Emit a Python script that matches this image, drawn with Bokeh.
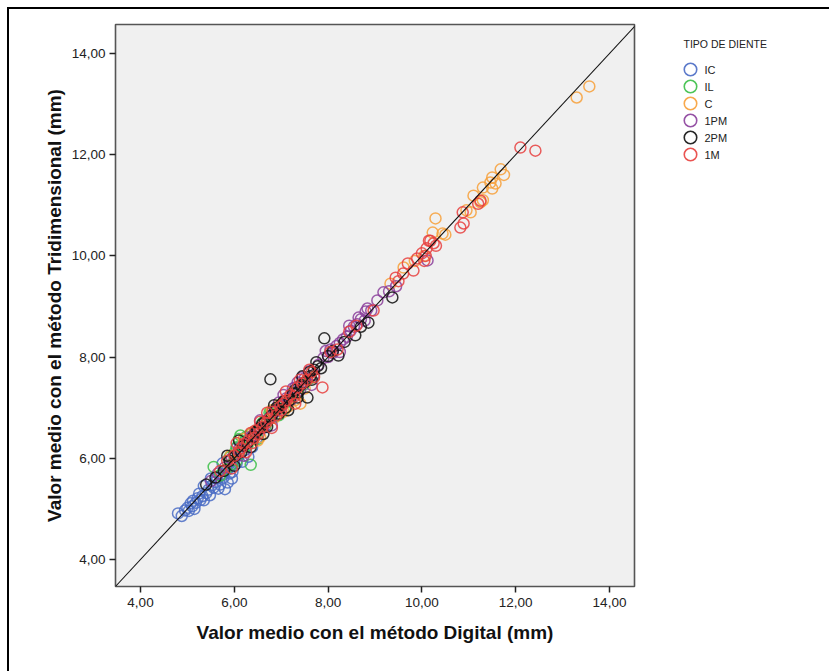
from bokeh.plotting import figure
from bokeh.models import Slope, FixedTicker, Range1d
from bokeh.layouts import row
from bokeh.core.properties import value
from bokeh.embed import file_html
from bokeh.resources import INLINE

# ---- data ----
IC_x = [4.80,4.88,4.95,5.00,5.03,5.07,5.10,5.12,5.15,5.18,5.22,5.25,5.28,5.32,5.35,5.40,5.45,5.48,5.52,5.56,
        5.60,5.63,5.66,5.70,5.74,5.77,5.80,5.84,5.86,5.90,5.93,5.96,6.00,6.05,6.10,6.17,6.22,6.30,6.38,6.48,
        5.75,5.50,5.35,5.95,6.05]
IC_y = [4.91,4.86,4.97,5.02,4.96,5.11,5.05,5.16,5.00,5.12,5.21,5.30,5.18,5.25,5.17,5.31,5.38,5.27,5.46,5.42,
        5.53,5.61,5.40,5.48,5.66,5.62,5.39,5.76,5.52,5.70,5.85,5.73,5.96,5.90,6.06,5.93,6.16,6.03,6.22,6.40,
        5.90,5.60,5.45,5.60,6.20]

IL_x = [5.56,5.70,5.82,5.90,5.95,6.00,6.05,6.10,6.13,6.18,6.22,6.28,6.35,6.35,6.42,6.48,6.55,6.60,6.66,6.72,
        6.78,6.85,6.92,7.00,7.08,7.15,7.25,7.35,7.48,7.62,
        6.05,6.25,6.50,6.75,6.95]
IL_y = [5.83,5.66,5.78,6.02,5.88,6.10,5.95,6.38,6.45,6.20,6.33,6.25,5.87,6.48,6.40,6.55,6.58,6.70,6.62,6.75,
        6.90,6.82,7.00,7.05,6.98,7.12,7.30,7.28,7.45,7.58,
        6.22,6.42,6.38,6.90,6.85]

C_x = [5.92,6.08,6.25,6.40,6.55,6.70,6.85,6.95,7.05,7.20,7.30,7.41,7.55,7.70,
       9.33,9.61,9.85,10.05,10.23,10.29,10.44,10.50,10.95,11.04,11.10,11.25,11.30,11.46,11.50,11.57,11.50,11.68,11.75,
       13.30,13.57,
       6.20,6.50,6.80,7.15,7.50,11.30]
C_y = [6.05,6.12,6.30,6.52,6.42,6.72,6.80,7.05,6.92,7.25,7.15,7.08,7.55,7.62,
       9.45,9.77,9.90,10.00,10.46,10.74,10.44,10.42,10.90,10.86,11.19,11.06,11.35,11.45,11.55,11.43,11.33,11.71,11.60,
       13.13,13.35,
       6.38,6.35,6.95,7.02,7.38,11.10]

PM1_x = [5.50,5.65,5.80,5.95,6.10,6.25,6.40,6.50,6.62,6.75,6.88,7.00,7.10,7.20,7.30,7.40,7.50,7.60,7.70,7.80,
         7.90,8.00,8.10,8.18,8.25,8.32,8.40,8.48,8.55,8.62,8.70,8.78,8.84,8.92,9.05,9.18,9.30,9.45,10.12,
         6.35,6.95,7.45,8.05,8.65,7.25,
         6.20,6.55,6.80,7.05,7.35,7.65,8.25,8.45,8.80,7.95]
PM1_y = [5.55,5.70,5.82,6.00,6.18,6.28,6.45,6.55,6.60,6.80,6.92,7.02,7.18,7.15,7.40,7.35,7.58,7.72,7.65,7.85,
         7.98,8.00,8.08,8.22,8.28,8.35,8.40,8.52,8.60,8.65,8.75,8.72,8.96,8.92,9.12,9.28,9.30,9.40,9.91,
         6.42,7.10,7.60,8.15,8.78,7.38,
         6.05,6.75,6.65,7.25,7.50,7.45,8.10,8.62,8.90,8.12]

PM2_x = [5.40,5.60,5.78,5.90,6.02,6.15,6.28,6.40,6.50,6.60,6.70,6.77,6.80,6.88,6.95,7.02,7.10,7.18,7.25,7.35,
         7.42,7.50,7.56,7.62,7.70,7.78,7.85,7.92,8.00,8.10,8.22,8.35,8.58,8.70,8.86,9.37,
         6.45,6.65,6.90,7.05,7.30,7.60,7.75,6.20,6.55,
         6.10,6.35,6.62,6.85,7.15,7.45,7.35,7.65,6.00,5.85]
PM2_y = [5.48,5.62,5.75,5.95,6.05,6.12,6.30,6.42,6.55,6.68,6.62,7.56,6.85,6.95,6.88,7.08,7.00,7.15,7.28,7.30,
         7.45,7.50,7.20,7.62,7.75,7.82,7.78,8.37,8.02,8.12,8.03,8.30,8.43,8.60,8.68,9.18,
         6.50,6.72,7.00,7.12,7.35,7.70,7.90,6.25,6.60,
         6.35,6.22,6.48,7.05,6.95,7.62,7.20,7.55,5.85,6.05]

M1_x = [5.70,5.85,6.00,6.10,6.20,6.30,6.38,6.45,6.52,6.60,6.68,6.75,6.82,6.90,6.98,7.05,7.12,7.20,7.28,7.35,
        7.45,7.55,7.65,7.88,8.05,8.20,8.45,8.60,8.97,9.44,9.50,9.60,9.82,9.90,10.00,10.08,10.18,10.25,10.10,10.05,
        10.30,10.82,10.87,10.89,11.20,11.25,12.10,12.42,
        6.15,6.42,6.70,7.00,7.40,
        6.05,6.25,6.55,6.80,7.10,7.30,7.60,6.35,5.95,7.70,9.70,10.15]
M1_y = [5.75,5.95,6.05,6.12,6.28,6.35,6.30,6.55,6.48,6.62,6.70,6.78,6.92,6.85,7.02,7.08,7.15,7.25,7.22,7.40,
        7.48,7.55,7.70,7.40,8.10,8.15,8.50,8.62,8.92,9.57,9.50,9.65,9.71,9.95,10.05,10.00,10.30,10.25,10.15,9.90,
        10.20,10.56,10.86,10.64,11.03,11.09,12.14,12.08,
        6.20,6.40,6.90,6.95,7.55,
        6.30,6.12,6.72,6.60,7.32,7.08,7.75,6.50,5.80,7.60,9.85,10.30]

groups = ["IC", "IL", "C", "1PM", "2PM", "1M"]
xs = [IC_x, IL_x, C_x, PM1_x, PM2_x, M1_x]
ys = [IC_y, IL_y, C_y, PM1_y, PM2_y, M1_y]
colors = ["#4a6cc4", "#3bbf47", "#f7a03a", "#8b3f9b", "#111111", "#e8413f"]
legend_title = "TIPO DE DIENTE"

ticks = [4, 6, 8, 10, 12, 14]
tick_labels = {4: "4,00", 6: "6,00", 8: "8,00", 10: "10,00", 12: "12,00", 14: "14,00"}

FONT = "Liberation Sans"
H = 662

# ---------------- main scatter ----------------
p = figure(frame_width=519, frame_height=562,
           x_range=Range1d(3.467, 14.533), y_range=Range1d(3.466, 14.573),
           output_backend="svg", toolbar_location=None,
           min_border_left=106, min_border_top=15, min_border_bottom=85, min_border_right=2)

p.background_fill_color = "#f0f0f0"
p.border_fill_color = "white"
p.outline_line_color = "#555555"
p.outline_line_width = 1.6
p.xgrid.visible = False
p.ygrid.visible = False

for ax in (p.xaxis[0], p.yaxis[0]):
    ax.ticker = FixedTicker(ticks=ticks)
    ax.major_label_overrides = tick_labels
    ax.axis_line_color = None
    ax.major_tick_in = 0
    ax.major_tick_out = 6
    ax.major_tick_line_color = "#222222"
    ax.major_tick_line_width = 1.5
    ax.minor_tick_line_color = None
    ax.major_label_text_font = FONT
    ax.major_label_text_font_size = "13.5px"
    ax.major_label_text_color = "#222222"
    ax.axis_label_text_font = FONT
    ax.axis_label_text_font_size = "19px"
    ax.axis_label_text_font_style = "bold"
    ax.axis_label_text_color = "#111111"

p.xaxis.axis_label = "Valor medio con el método Digital (mm)"
p.yaxis.axis_label = "Valor medio con el método Tridimensional (mm)"
p.xaxis.axis_label_standoff = 12
p.yaxis.axis_label_standoff = 4
p.xaxis.major_label_standoff = 5
p.yaxis.major_label_standoff = 4

p.add_layout(Slope(gradient=1, y_intercept=0, line_color="#111111", line_width=1.1))

for x, y, c in zip(xs, ys, colors):
    p.scatter(x, y, marker="circle", size=11, fill_color=None,
              line_color=c, line_width=1.5, line_alpha=0.85)

# ---------------- legend panel (separate small figure, pixel-like units) ----------------
LW = 193
lf = figure(frame_width=LW, frame_height=H, x_range=Range1d(0, LW), y_range=Range1d(H, 0),
            output_backend="svg", toolbar_location=None,
            x_axis_location=None, y_axis_location=None,
            min_border_left=0, min_border_right=0, min_border_top=0, min_border_bottom=0)
lf.outline_line_color = None
lf.xgrid.visible = False
lf.ygrid.visible = False
lf.background_fill_color = "white"
lf.border_fill_color = "white"

title_x, title_y = 47, 19
mark_x, label_x = 54, 68
row0, row_step = 45, 17
rows_y = [row0 + row_step * i for i in range(len(groups))]

lf.text([title_x], [title_y], text=[legend_title], text_font=value(FONT), text_font_size="10.5px",
        text_color="#222222", text_baseline="middle", text_align="left")
lf.scatter([mark_x] * len(groups), rows_y, marker="circle", size=12.5, fill_color=None,
           line_color=colors, line_width=1.6, line_alpha=0.9)
lf.text([label_x] * len(groups), rows_y, text=groups, text_font=value(FONT), text_font_size="11px",
        text_color="#222222", text_baseline="middle", text_align="left")

layout = row(p, lf)
layout.styles = {"border-left": "2px solid #000", "border-top": "2px solid #000",
                 "margin-left": "7px", "margin-top": "7px"}

open("out.html", "w").write(file_html(layout, INLINE))
